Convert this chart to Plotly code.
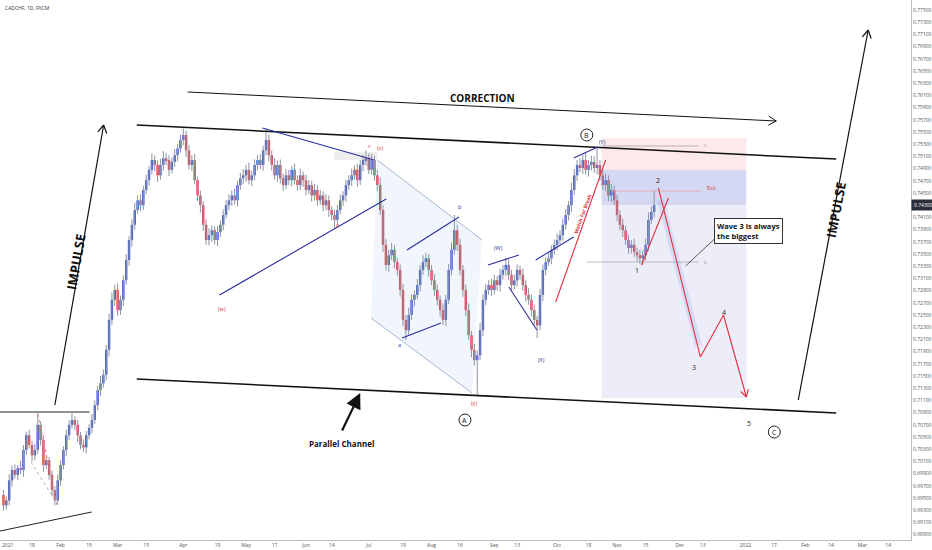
import math
import pandas as pd
import plotly.graph_objects as go

TITLE = "CADCHF, 1D, FXCM"
PIP = 1e-4
FIRST_OPEN = 6955
CLOSE = [
    6938, 6946, 6979, 6996, 6988, 6999, 6996, 7029, 7053, 7037,
    7020, 7029, 7070, 7045, 7004, 7012, 6988, 6963, 6946, 6979,
    7004, 7029, 7053, 7070, 7078, 7070, 7053, 7037, 7033, 7053,
    7065, 7078, 7102, 7127, 7138, 7152, 7193, 7242, 7275, 7291,
    7258, 7275, 7307, 7340, 7373, 7398, 7422, 7438, 7430, 7455,
    7471, 7488, 7504, 7496, 7479, 7496, 7507, 7504, 7488, 7501,
    7512, 7523, 7537, 7545, 7520, 7496, 7504, 7471, 7446, 7430,
    7398, 7373, 7381, 7389, 7373, 7386, 7398, 7414, 7430, 7438,
    7446, 7438, 7463, 7474, 7479, 7488, 7471, 7479, 7496, 7504,
    7496, 7520, 7537, 7512, 7496, 7479, 7496, 7474, 7463, 7479,
    7471, 7488, 7471, 7463, 7479, 7471, 7455, 7463, 7446, 7455,
    7438, 7446, 7430, 7438, 7422, 7414, 7406, 7422, 7438, 7446,
    7463, 7471, 7479, 7488, 7471, 7496, 7504, 7507, 7488, 7504,
    7479, 7463, 7422, 7365, 7332, 7348, 7357, 7337, 7324, 7291,
    7242, 7225, 7250, 7275, 7283, 7299, 7324, 7337, 7343, 7324,
    7307, 7291, 7275, 7258, 7242, 7275, 7324, 7357, 7389, 7365,
    7324, 7291, 7258, 7217, 7193, 7176, 7184, 7225, 7275, 7291,
    7299, 7291, 7307, 7299, 7316, 7324, 7332, 7316, 7299, 7307,
    7324, 7316, 7299, 7283, 7275, 7258, 7242, 7233, 7283, 7324,
    7337, 7343, 7357, 7365, 7373, 7381, 7398, 7414, 7430, 7455,
    7479, 7496, 7491, 7504, 7488, 7496, 7501, 7491, 7496, 7479,
    7463, 7471, 7446, 7455, 7438, 7414, 7398, 7389, 7373, 7360,
    7365, 7353, 7348, 7343, 7348, 7365, 7406, 7419, 7430,
]
UPPER_WICK = [
    8, 6, 10, 7, 9, 5, 12, 8, 6, 9,
    7, 10, 19, 6, 8, 9, 5, 7, 6, 10,
    8, 6, 9, 7, 11, 6, 8, 5, 9, 7,
    6, 10, 8, 7, 12, 9, 8, 10, 12, 9,
    11, 7, 8, 10, 6, 9, 12, 8, 10, 7,
    9, 6, 11, 8, 7, 10, 12, 9, 8, 7,
    10, 8, 9, 11, 7, 9, 8, 10, 6, 8,
    7, 9, 11, 8, 6, 10, 7, 9, 8, 10,
    8, 11, 7, 9, 10, 8, 12, 7, 9, 8,
    10, 7, 19, 9, 8, 11, 7, 9, 8, 10,
    9, 7, 10, 8, 11, 6, 9, 8, 7, 10,
    8, 9, 7, 10, 8, 6, 9, 8, 10, 7,
    9, 8, 11, 7, 10, 8, 9, 13, 8, 10,
    7, 9, 12, 8, 10, 9, 11, 8, 7, 9,
    10, 8, 12, 9, 7, 10, 8, 11, 9, 7,
    8, 10, 9, 7, 11, 8, 10, 12, 25, 9,
    10, 8, 9, 11, 7, 10, 8, 12, 9, 10,
    8, 11, 9, 7, 10, 8, 12, 9, 8, 10,
    9, 7, 10, 8, 11, 9, 8, 7, 10, 9,
    8, 10, 7, 9, 11, 8, 9, 10, 7, 12,
    10, 8, 11, 9, 12, 8, 10, 9, 27, 8,
    9, 11, 8, 10, 7, 9, 8, 10, 7, 9,
    8, 10, 7, 9, 8, 10, 12, 9, 25,
]
LOWER_WICK = [
    9, 7, 8, 10, 6, 9, 7, 11, 8, 6,
    10, 8, 7, 9, 11, 6, 8, 10, 8, 7,
    9, 7, 10, 8, 6, 9, 11, 7, 8, 10,
    7, 9, 6, 8, 10, 7, 9, 11, 8, 10,
    9, 8, 10, 7, 9, 11, 8, 6, 10, 8,
    7, 9, 8, 10, 11, 7, 9, 8, 10, 6,
    8, 10, 7, 9, 11, 8, 10, 7, 9, 12,
    10, 8, 9, 11, 7, 10, 8, 9, 6, 8,
    9, 7, 10, 8, 9, 11, 7, 10, 8, 9,
    7, 9, 8, 10, 9, 7, 11, 8, 10, 7,
    8, 10, 7, 9, 8, 11, 9, 7, 10, 8,
    9, 7, 10, 8, 11, 9, 14, 8, 7, 9,
    10, 8, 9, 7, 11, 8, 10, 9, 7, 8,
    9, 10, 8, 12, 9, 11, 8, 10, 9, 11,
    10, 16, 9, 8, 11, 7, 10, 8, 9, 11,
    8, 10, 9, 11, 8, 10, 7, 9, 8, 10,
    9, 11, 10, 8, 12, 9, 57, 8, 10, 9,
    8, 10, 7, 9, 11, 8, 10, 9, 8, 7,
    10, 8, 9, 11, 8, 10, 9, 21, 8, 10,
    9, 7, 10, 8, 9, 7, 10, 8, 9, 11,
    8, 9, 7, 10, 8, 11, 9, 8, 10, 9,
    8, 10, 9, 11, 8, 10, 9, 11, 8, 10,
    9, 8, 10, 9, 11, 8, 10, 7, 9,
]
TICK_DATES = ["2021-01-04", "2021-01-18", "2021-02-01", "2021-02-15", "2021-03-01",
              "2021-03-15", "2021-04-01", "2021-04-19", "2021-05-03", "2021-05-17",
              "2021-06-01", "2021-06-14", "2021-07-01", "2021-07-19", "2021-08-02",
              "2021-08-16", "2021-09-01", "2021-09-13", "2021-10-01", "2021-10-18",
              "2021-11-01", "2021-11-15", "2021-12-01", "2021-12-13", "2022-01-03",
              "2022-01-17", "2022-02-01", "2022-02-14", "2022-03-01", "2022-03-14"]
TICK_TEXT = ["2021", "18", "Feb", "15", "Mar", "15", "Apr", "19", "May", "17",
             "Jun", "14", "Jul", "19", "Aug", "16", "Sep", "13", "Oct", "18",
             "Nov", "15", "Dec", "13", "2022", "17", "Feb", "14", "Mar", "14"]

# ---------------- geometry of the plot area ----------------
W, H = 932, 550
ML, MR, MT, MB = 0, 19, 0, 10
PW, PH = W - ML - MR, H - MT - MB
XR = [-1.22, 318.0]
YR = [0.68812, 0.77664]


def to_px(d, p):
    return ((d - XR[0]) / (XR[1] - XR[0]) * PW, (YR[1] - p) / (YR[1] - YR[0]) * PH)


def to_data(px, py):
    return (XR[0] + px / PW * (XR[1] - XR[0]), YR[1] - py / PH * (YR[1] - YR[0]))


bdays = pd.bdate_range("2021-01-04", periods=420)
tickvals = [bdays.get_loc(pd.Timestamp(t)) for t in TICK_DATES]

n = len(CLOSE)
xs = list(range(n))
opens = [FIRST_OPEN] + CLOSE[:-1]
o = [v * PIP for v in opens]
c = [v * PIP for v in CLOSE]
hi = [max(a, b) + w * PIP for a, b, w in zip(o, c, UPPER_WICK)]
lo = [min(a, b) - w * PIP for a, b, w in zip(o, c, LOWER_WICK)]

UP = "#3d5bd0"
DN = "#e0434f"
WICK = "#8e93a3"

fig = go.Figure()

# wicks
wx, wy = [], []
for i in xs:
    wx += [i, i, None]
    wy += [lo[i], hi[i], None]
fig.add_trace(go.Scatter(x=wx, y=wy, mode="lines", line=dict(color=WICK, width=1),
                         hoverinfo="skip", showlegend=False))

# bodies
for up, col in ((True, UP), (False, DN)):
    bx, bb, bh = [], [], []
    for i in xs:
        if (c[i] >= o[i]) == up:
            bx.append(i)
            bb.append(min(o[i], c[i]))
            bh.append(max(abs(c[i] - o[i]), 0.00004))
    fig.add_trace(go.Bar(x=bx, y=bh, base=bb, width=0.86, marker=dict(color=col, line=dict(width=0)),
                         hoverinfo="skip", showlegend=False))

# ---------------- drawings (data coordinates: bar index, price) ----------------
shapes = []
annos = []


def line(a, b, color="#000", width=1, dash="solid"):
    shapes.append(dict(type="line", xref="x", yref="y", x0=a[0], y0=a[1], x1=b[0], y1=b[1],
                       line=dict(color=color, width=width, dash=dash), layer="above"))


def chevron(tail, head, color, width, L=9, ang=30):
    tx, ty = to_px(*tail)
    hx, hy = to_px(*head)
    dx, dy = hx - tx, hy - ty
    m = math.hypot(dx, dy)
    ux, uy = -dx / m, -dy / m
    for s in (1, -1):
        a = math.radians(ang) * s
        bx = ux * math.cos(a) - uy * math.sin(a)
        by = ux * math.sin(a) + uy * math.cos(a)
        line(head, to_data(hx + L * bx, hy + L * by), color, width)


def arrow(tail, head, color="#000", width=1.2, L=9):
    line(tail, head, color, width)
    chevron(tail, head, color, width, L)


def rect(x0, x1, y0, y1, fill):
    shapes.append(dict(type="rect", xref="x", yref="y", x0=x0, x1=x1, y0=y0, y1=y1,
                       fillcolor=fill, line=dict(width=0), layer="below"))


def text(x, y, t, size=6, color="#222", bold=False, angle=0, family="Open Sans", **kw):
    annos.append(dict(x=x, y=y, xref="x", yref="y", text=("<b>%s</b>" % t) if bold else t,
                      showarrow=False, textangle=angle,
                      font=dict(size=size, color=color, family=family), **kw))


def circ(x, y, t):
    shapes.append(dict(type="circle", xref="x", yref="y", xsizemode="pixel", ysizemode="pixel",
                       xanchor=x, yanchor=y, x0=-6, x1=6, y0=-6, y1=6,
                       line=dict(color="#222", width=1), fillcolor="white", layer="above"))
    text(x, y, t, size=7, color="#111")


# position-tool boxes
rect(209.6, 260.3, 0.74877, 0.75402, "rgba(242,80,90,0.13)")
rect(209.6, 260.3, 0.74303, 0.74877, "rgba(80,90,200,0.24)")
rect(209.6, 260.3, 0.71140, 0.74303, "rgba(80,90,200,0.11)")
rect(115.9, 130.95, 0.75041, 0.75172, "rgba(0,0,0,0.07)")

# faint blue channel (diamond)
shapes.append(dict(type="path", xref="x", yref="y",
                   path="M 130.95,0.75041 L 167.7,0.73730 L 164.2,0.71221 L 128.8,0.72451 Z",
                   fillcolor="rgba(120,170,230,0.10)", line=dict(width=0), layer="below"))
line((130.95, 0.75041), (167.7, 0.73730), "#8fa6c9", 0.8)
line((128.8, 0.72451), (164.2, 0.71221), "#8fa6c9", 0.8)

# main parallel channel
line((46.7, 0.75615), (291.8, 0.75057), "#111", 1.6)
line((46.7, 0.71451), (291.8, 0.70894), "#111", 1.6)

# left-side lines
line((-1.22, 0.70910), (30.2, 0.70910), "#222", 1)
line((-1.22, 0.68959), (30.9, 0.69271), "#222", 1)
line((12.06, 0.70877), (18.7, 0.69386), "#d98a90", 1, "dot")
line((9.6, 0.70090), (18.0, 0.69468), "#b0b0b8", 1, "dot")

# arrows
arrow((18.0, 0.71025), (35.1, 0.75615), "#111", 1.2)
arrow((278.5, 0.71107), (303.0, 0.77172), "#111", 1.2)
arrow((64.5, 0.76156), (270.8, 0.75680), "#111", 1.0)

# navy structure lines
NAVY = "#2b2f9e"
line((90.7, 0.75566), (129.9, 0.75041), NAVY, 1.1)
line((75.7, 0.72828), (134.1, 0.74402), NAVY, 1.1)
line((141.4, 0.73566), (159.6, 0.74107), NAVY, 1.1)
line((139.7, 0.72123), (153.3, 0.72369), NAVY, 1.1)
line((169.8, 0.73320), (180.6, 0.73484), NAVY, 1.1)
line((177.1, 0.72959), (186.9, 0.72254), NAVY, 1.1)
line((186.5, 0.73402), (199.8, 0.73779), NAVY, 1.1)
line((199.8, 0.75074), (208.2, 0.75254), NAVY, 1.1)

# watch-for-break line
RED = "#e0303c"
line((193.5, 0.72713), (211.0, 0.75041), RED, 1.1)

# position tool guide lines
line((209.6, 0.75271), (243.5, 0.75271), "#a0a0a0", 0.7)
line((213.1, 0.74533), (244.6, 0.74533), "#e8a3aa", 0.8)
line((204.4, 0.73369), (243.5, 0.73369), "#a0a0a0", 0.7)

# projected path
line((230.2, 0.74385), (243.5, 0.72008), "rgba(110,140,220,0.18)", 7)
line((223.6, 0.73320), (233.0, 0.74418), RED, 1.1)
line((229.5, 0.74582), (244.2, 0.71812), RED, 1.1)
line((244.2, 0.71812), (252.3, 0.72500), RED, 1.1)
arrow((252.3, 0.72500), (260.3, 0.71156), RED, 1.1, L=8)

# callout pointer
line((249.5, 0.73762), (239.0, 0.73303), "#333", 0.8)

# texts
text(25.4, 0.73369, "IMPULSE", size=13, color="#111", bold=True, angle=-80)
text(291.7, 0.74221, "IMPULSE", size=13, color="#111", bold=True, angle=-79)
text(167.7, 0.76057, "CORRECTION", size=10, color="#111", bold=True)
text(118.4, 0.70402, "Parallel Channel", size=8, color="#111", bold=True)
annos.append(dict(x=125.0, y=0.71221, xref="x", yref="y", ax=118.4, ay=0.70582,
                  axref="x", ayref="y", showarrow=True, arrowhead=2, arrowsize=1.4,
                  arrowwidth=2.2, arrowcolor="#111", text=""))
annos.append(dict(x=261.0, y=0.73877, xref="x", yref="y", showarrow=False,
                  text="<b>Wave 3 is always<br>the biggest</b>", align="left",
                  font=dict(size=7.5, color="#111", family="Open Sans"),
                  bgcolor="white", bordercolor="#333", borderwidth=1, borderpad=2))
text(202.9, 0.74156, "Watch For Break", size=5, color=RED, bold=True, angle=-70)
text(245.9, 0.74582, "Exit", size=5, color=RED, xanchor="left")
text(244.6, 0.75271, "1", size=4, color="#777", xanchor="left")
text(244.6, 0.73369, "0", size=4, color="#777", xanchor="left")

for (x, y, t) in [(229.5, 0.74713, "2"), (221.9, 0.73238, "1"), (242.1, 0.71648, "3"),
                  (252.6, 0.72549, "4"), (261.4, 0.70730, "5")]:
    text(x, y, t, size=7, color="#222")

for (x, y, t) in [(76.4, 0.72598, "(w)"), (132.0, 0.75238, "(x)"), (164.9, 0.71058, "(y)"),
                  (128.2, 0.75271, "c"), (117.0, 0.73975, "a")]:
    text(x, y, t, size=5.5, color="#d0303c")
for (x, y, t) in [(173.6, 0.73598, "(W)"), (188.6, 0.71763, "(X)"), (210.0, 0.75336, "(Y)"),
                  (160.0, 0.74271, "b"), (138.6, 0.72008, "a")]:
    text(x, y, t, size=5.5, color=NAVY)

circ(161.7, 0.70779, "A")
circ(204.4, 0.75451, "B")
circ(270.1, 0.70582, "C")

# title, first (edge-clipped) date label and price tag
annos.append(dict(x=0.003, y=0.995, xref="paper", yref="paper", xanchor="left", yanchor="top",
                  text=TITLE, showarrow=False, font=dict(size=5, color="#333", family="Open Sans")))
annos.append(dict(x=0.0, y=-5.0 / PH, xref="paper", yref="paper", xanchor="left", yanchor="middle",
                  text=TICK_TEXT[0], showarrow=False, font=dict(size=5, color="#555", family="Open Sans")))
annos.append(dict(x=1.0, y=c[-1], xref="paper", yref="y", xanchor="left", yanchor="middle",
                  text="%.5f" % c[-1], showarrow=False, bgcolor="#2a2e39",
                  font=dict(size=5, color="white", family="Open Sans"), borderpad=2))

fig.update_layout(
    width=W, height=H, margin=dict(l=ML, r=MR, t=MT, b=MB),
    plot_bgcolor="white", paper_bgcolor="white", barmode="overlay",
    showlegend=False, shapes=shapes, annotations=annos,
    xaxis=dict(range=XR, showgrid=False, zeroline=False, showline=True, linecolor="#bdbdbd",
               linewidth=1, tickvals=tickvals[1:], ticktext=TICK_TEXT[1:], ticks="",
               tickfont=dict(size=5, color="#555", family="Open Sans"), fixedrange=True),
    yaxis=dict(range=YR, side="right", showgrid=False, zeroline=False, showline=True,
               linecolor="#bdbdbd", linewidth=1, tick0=0.689, dtick=0.002, tickformat=".5f",
               ticks="", tickfont=dict(size=5, color="#555", family="Open Sans"), fixedrange=True),
)

fig.write_html("out.html", config={"displayModeBar": False},
               post_script="document.body.style.margin='0px';document.body.style.overflow='hidden';")
